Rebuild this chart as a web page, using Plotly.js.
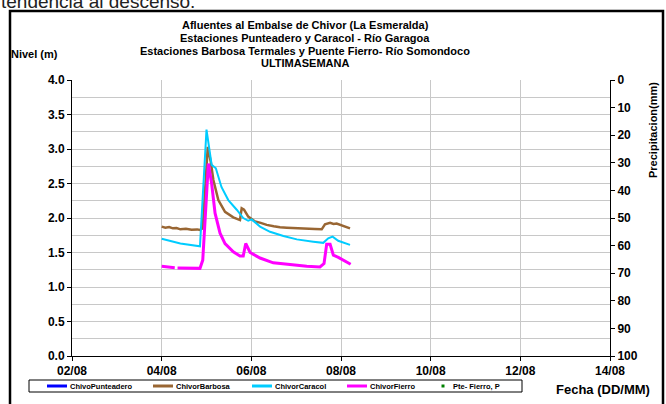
<!DOCTYPE html>
<html>
<head>
<meta charset="utf-8">
<script src="https://cdn.plot.ly/plotly-3.0.1.min.js"></script>
<style>html,body{margin:0;padding:0;background:#fff;}#chart{width:666px;height:404px;}</style>
</head>
<body>
<div id="chart"></div>
<script>
// ---- Data ----
const seriesNames = ["ChivoPunteadero", "ChivorBarbosa", "ChivorCaracol", "ChivorFierro", "Pte- Fierro, P"];
const seriesColors = ["#0000FF", "#996633", "#00CCFF", "#FF00FF", "#008000"];

// Punteadero: no level values drawn in the reference (missing)
const punteaderoFecha = ["2024-08-04 00:00"];
const punteaderoNivel = [null];

const barbosaFecha = ["2024-08-04 00:00","2024-08-04 02:00","2024-08-04 04:00","2024-08-04 06:00","2024-08-04 08:00","2024-08-04 10:00","2024-08-04 13:00","2024-08-04 16:00","2024-08-04 19:00","2024-08-04 20:30","2024-08-04 22:00","2024-08-05 00:40","2024-08-05 02:15","2024-08-05 03:40","2024-08-05 06:20","2024-08-05 09:55","2024-08-05 14:20","2024-08-05 17:55","2024-08-05 18:50","2024-08-05 20:05","2024-08-05 22:20","2024-08-06 02:00","2024-08-06 05:00","2024-08-06 08:15","2024-08-06 12:00","2024-08-06 15:20","2024-08-06 19:00","2024-08-07 00:20","2024-08-07 06:00","2024-08-07 10:00","2024-08-07 13:40","2024-08-07 15:25","2024-08-07 18:10","2024-08-07 20:00","2024-08-07 21:40","2024-08-08 01:15","2024-08-08 04:50"];
const barbosaNivel = [1.875,1.86,1.87,1.85,1.855,1.836,1.845,1.83,1.835,1.826,1.85,3.03,2.82,2.55,2.26,2.09,2.01,1.97,2.14,2.12,2.02,1.95,1.93,1.90,1.88,1.865,1.86,1.85,1.845,1.84,1.836,1.91,1.93,1.915,1.92,1.88,1.85];

const caracolFecha = ["2024-08-04 00:00","2024-08-04 10:00","2024-08-04 20:30","2024-08-05 00:00","2024-08-05 02:45","2024-08-05 05:00","2024-08-05 08:00","2024-08-05 11:40","2024-08-05 16:10","2024-08-05 19:40","2024-08-05 22:20","2024-08-06 00:10","2024-08-06 04:40","2024-08-06 10:00","2024-08-06 17:10","2024-08-07 00:20","2024-08-07 09:10","2024-08-07 14:30","2024-08-07 17:10","2024-08-07 19:30","2024-08-07 22:30","2024-08-08 04:50"];
const caracolNivel = [1.70,1.63,1.59,3.28,2.77,2.72,2.45,2.26,2.12,2.00,1.96,1.98,1.875,1.80,1.74,1.69,1.657,1.64,1.705,1.73,1.67,1.61];

const fierroFecha = ["2024-08-04 00:00","2024-08-04 07:00","2024-08-04 07:30","2024-08-04 08:30","2024-08-04 14:00","2024-08-04 20:30","2024-08-04 22:00","2024-08-05 01:00","2024-08-05 02:45","2024-08-05 04:35","2024-08-05 07:15","2024-08-05 09:55","2024-08-05 14:20","2024-08-05 17:55","2024-08-05 19:40","2024-08-05 21:00","2024-08-05 23:20","2024-08-06 04:40","2024-08-06 11:45","2024-08-06 20:40","2024-08-07 05:40","2024-08-07 12:45","2024-08-07 14:55","2024-08-07 16:20","2024-08-07 18:10","2024-08-07 19:55","2024-08-07 22:35","2024-08-08 05:10"];
const fierroNivel = [1.30,1.28,null,1.275,1.27,1.27,1.39,2.79,2.50,2.07,1.78,1.63,1.51,1.45,1.45,1.63,1.50,1.42,1.35,1.32,1.30,1.29,1.34,1.62,1.62,1.46,1.43,1.33];

// Pte-Fierro precipitation: no values drawn in the reference (missing)
const pteFierroFecha = ["2024-08-04 00:00"];
const pteFierroPrecip = [null];

const xTickStart = "2024-08-02";
const xRange = ["2024-08-02", "2024-08-14"];
const yRangeNivel = [0, 4];
const yRangePrecip = [100, 0];

// ---- Traces ----
const boldFont = {family: "Liberation Sans, Arial, sans-serif", weight: "bold", color: "#000"};
const traces = [
  {x: punteaderoFecha, y: punteaderoNivel, name: seriesNames[0], type: "scatter", mode: "lines", line: {color: seriesColors[0], width: 3}},
  {x: barbosaFecha, y: barbosaNivel, name: seriesNames[1], type: "scatter", mode: "lines", line: {color: seriesColors[1], width: 2.5}},
  {x: caracolFecha, y: caracolNivel, name: seriesNames[2], type: "scatter", mode: "lines", line: {color: seriesColors[2], width: 2}},
  {x: fierroFecha, y: fierroNivel, name: seriesNames[3], type: "scatter", mode: "lines", connectgaps: false, line: {color: seriesColors[3], width: 3}},
  {x: pteFierroFecha, y: pteFierroPrecip, name: seriesNames[4], type: "scatter", mode: "markers", yaxis: "y2", marker: {color: seriesColors[4], size: 3, symbol: "square"}}
];

// plot area: x 72..610, y 80..356 px
const L = 72, R = 610, T = 80, B = 356;
const px = v => (v - L) / (R - L);
const py = v => (B - v) / (B - T);

const titleLines = [
  "Afluentes al Embalse de Chivor (La Esmeralda)",
  "Estaciones Punteadero y Caracol - Río Garagoa",
  "Estaciones Barbosa Termales y Puente Fierro- Río Somondoco",
  "ULTIMASEMANA"
];
const titleY = [25, 38, 51, 63];

const annotations = titleLines.map((t, i) => ({
  text: t, xref: "paper", yref: "paper", x: px(305), y: py(titleY[i]),
  xanchor: "center", yanchor: "middle", showarrow: false,
  font: Object.assign({}, boldFont, {size: 11})
}));
annotations.push(
  {text: "Nivel (m)", xref: "paper", yref: "paper", x: px(34), y: py(54), xanchor: "center", yanchor: "middle", showarrow: false, font: Object.assign({}, boldFont, {size: 11})},
  {text: "Precipitacion(mm)", xref: "paper", yref: "paper", x: px(653), y: py(130), xanchor: "center", yanchor: "middle", textangle: -90, showarrow: false, font: Object.assign({}, boldFont, {size: 11})},
  {text: "Fecha (DD/MM)", xref: "paper", yref: "paper", x: px(603), y: py(389), xanchor: "center", yanchor: "middle", showarrow: false, font: Object.assign({}, boldFont, {size: 13})},
  {text: "tendencia al descenso.", xref: "paper", yref: "paper", x: px(-1), y: py(1.5), xanchor: "left", yanchor: "middle", showarrow: false, font: {family: "Liberation Sans, Arial, sans-serif", size: 19, color: "#222"}}
);

// ---- Legend box (drawn as shapes + text, built from the series names/colours) ----
const legendBox = {x0: 29, x1: 522, y0: 380, y1: 392};
const legendSwatchX = [47, 153, 252, 347, 443];
const shapes = [
  {type: "rect", xref: "paper", yref: "paper", x0: px(10), x1: px(663), y0: py(11), y1: py(420),
   line: {color: "#000", width: 2.5}, fillcolor: "rgba(0,0,0,0)", layer: "below"},
  {type: "rect", xref: "paper", yref: "paper", x0: px(legendBox.x0), x1: px(legendBox.x1), y0: py(legendBox.y0), y1: py(legendBox.y1),
   line: {color: "#000", width: 1}, fillcolor: "#fff", layer: "above"}
];
const legY = (legendBox.y0 + legendBox.y1) / 2;
seriesNames.forEach((name, i) => {
  const sx = legendSwatchX[i];
  let textX;
  if (i < 4) {
    shapes.push({type: "line", xref: "paper", yref: "paper", x0: px(sx), x1: px(sx + 20), y0: py(legY), y1: py(legY),
      line: {color: seriesColors[i], width: 3}, layer: "above"});
    textX = sx + 21;
  } else {
    shapes.push({type: "rect", xref: "paper", yref: "paper", x0: px(sx - 1.5), x1: px(sx + 1.5), y0: py(legY - 1.5), y1: py(legY + 1.5),
      line: {width: 0}, fillcolor: seriesColors[i], layer: "above"});
    textX = sx + 8;
  }
  annotations.push({text: name, xref: "paper", yref: "paper", x: px(textX), y: py(legY), xanchor: "left", yanchor: "middle",
    showarrow: false, font: Object.assign({}, boldFont, {size: 7.5})});
});

const layout = {
  width: 666, height: 404,
  margin: {l: L, r: 666 - R, t: T, b: 404 - B, pad: 0},
  paper_bgcolor: "#fff", plot_bgcolor: "#fff",
  showlegend: false,
  xaxis: {
    type: "date", range: xRange, tick0: xTickStart, dtick: 2 * 86400000,
    tickformat: "%d/%m", showgrid: true, gridcolor: "#c8c8c8", gridwidth: 1,
    showline: true, linecolor: "#000", linewidth: 1, ticks: "outside", ticklen: 4, tickcolor: "#000",
    tickfont: Object.assign({}, boldFont, {size: 12}), zeroline: false, fixedrange: true, automargin: false
  },
  yaxis: {
    range: yRangeNivel, dtick: 0.5, tickformat: ".1f", showgrid: true, gridcolor: "#c8c8c8", gridwidth: 1,
    minor: {dtick: 0.25, showgrid: true, gridcolor: "#c8c8c8", gridwidth: 1},
    showline: true, linecolor: "#000", linewidth: 1, ticks: "outside", ticklen: 4, tickcolor: "#000",
    tickfont: Object.assign({}, boldFont, {size: 12}), zeroline: false, fixedrange: true, automargin: false
  },
  yaxis2: {
    overlaying: "y", side: "right", range: yRangePrecip, dtick: 10, showgrid: false,
    showline: true, linecolor: "#000", linewidth: 1, ticks: "outside", ticklen: 4, tickcolor: "#000",
    tickfont: Object.assign({}, boldFont, {size: 12}), zeroline: false, fixedrange: true, automargin: false
  },
  shapes: shapes,
  annotations: annotations
};

Plotly.newPlot("chart", traces, layout, {staticPlot: true, displayModeBar: false});
</script>
</body>
</html>
